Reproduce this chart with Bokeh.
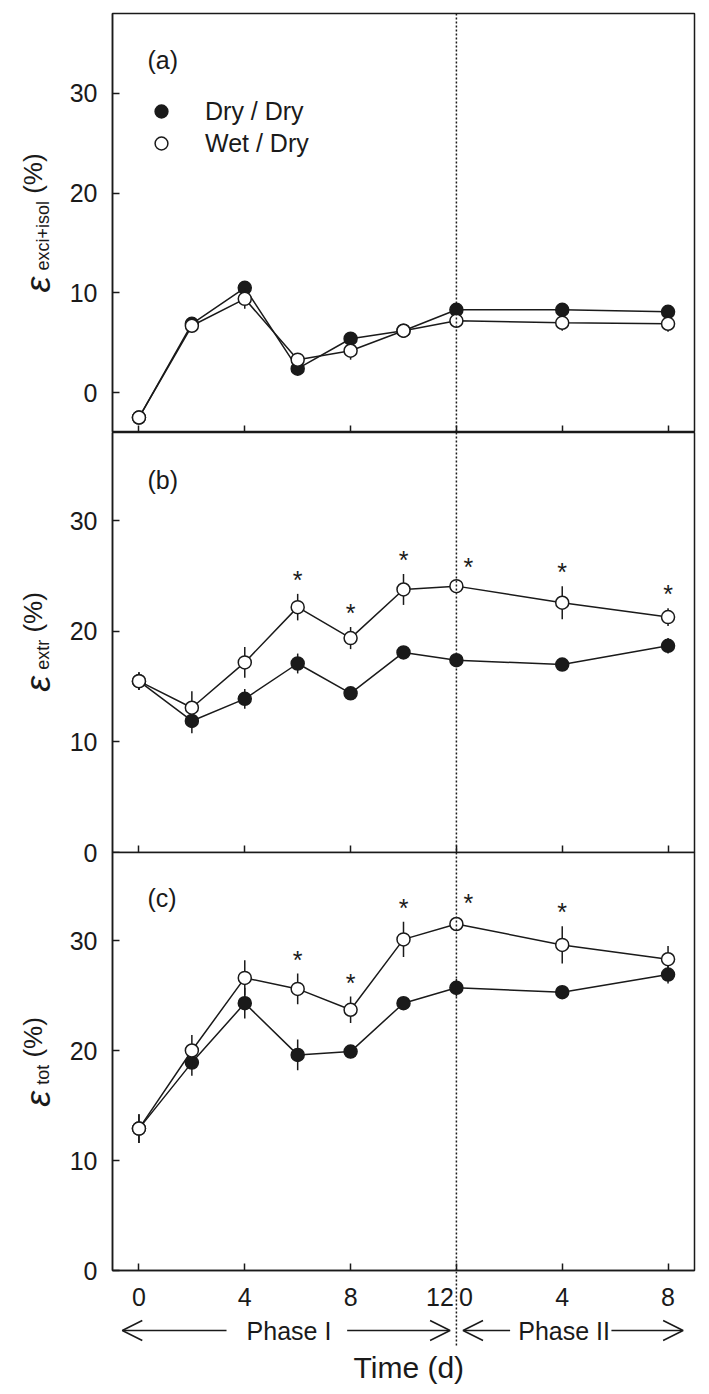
import math
import numpy as np
from bokeh.plotting import figure
from bokeh.models import (Range1d, FixedTicker, Span, Label, Legend, LegendItem,
                          Arrow, OpenHead, ColumnDataSource, CustomLabelingPolicy)
from bokeh.layouts import column, row
from bokeh.embed import file_html
from bokeh.resources import INLINE
from bokeh.core.properties import value

# ---------------- data ----------------
phase1_days = [0, 2, 4, 6, 8, 10, 12]
phase2_days = [4, 8]
x_pos = phase1_days + [12 + d for d in phase2_days]

tick_positions = [0, 4, 8, 12, 16, 20]
tick_labels = ["0", "4", "8", "12\u20090\u2007", "4", "8"]

series_names = ["Dry / Dry", "Wet / Dry"]

# panel (a)  epsilon exci+isol (%)
a_dry = [-2.5, 6.9, 10.5, 2.4, 5.4, 6.2, 8.3, 8.3, 8.1]
a_dry_err = [0.4, 0.6, 0.6, 0.4, 0.5, 0.4, 0.3, 0.3, 0.3]
a_wet = [-2.5, 6.7, 9.4, 3.3, 4.2, 6.2, 7.2, 7.0, 6.9]
a_wet_err = [0.4, 0.7, 1.0, 0.5, 0.9, 0.4, 0.5, 0.8, 0.8]
a_sig = [False, False, False, False, False, False, False, False, False]

# panel (b)  epsilon extr (%)
b_dry = [15.5, 11.9, 13.9, 17.1, 14.4, 18.1, 17.4, 17.0, 18.7]
b_dry_err = [0.8, 1.1, 0.9, 0.9, 0.5, 0.4, 0.4, 0.3, 0.7]
b_wet = [15.5, 13.1, 17.2, 22.2, 19.4, 23.8, 24.1, 22.6, 21.3]
b_wet_err = [0.8, 1.5, 1.4, 1.2, 1.0, 1.4, 0.5, 1.5, 0.8]
b_sig = [False, False, False, True, True, True, True, True, True]

# panel (c)  epsilon tot (%)
c_dry = [12.9, 18.9, 24.3, 19.6, 19.9, 24.3, 25.7, 25.3, 26.9]
c_dry_err = [1.3, 1.2, 1.4, 1.4, 0.6, 0.4, 0.8, 0.3, 0.8]
c_wet = [12.9, 20.0, 26.6, 25.6, 23.7, 30.1, 31.5, 29.6, 28.3]
c_wet_err = [1.3, 1.4, 1.6, 1.4, 1.2, 1.6, 0.6, 1.7, 1.2]
c_sig = [False, False, False, True, True, True, True, True, False]

# ---------------- styling helpers ----------------
FONT = "Liberation Sans"
INK = "#1a1a1a"
ARIAL = {" ": 0.278, "(": 0.333, ")": 0.333, "%": 0.889, "e": 0.556, "x": 0.5,
         "c": 0.5, "i": 0.222, "+": 0.584, "s": 0.5, "o": 0.556, "l": 0.222,
         "t": 0.278, "r": 0.333}


def tw(s, size):
    return sum(ARIAL.get(ch, 0.556) for ch in s) * size


LEFT_W = 50          # visible width of the strip holding the y-axis titles
LEFT_EXTRA = 72      # the strip runs on under the panels' (transparent) border
BL = 62              # left border of panels (tick labels)
BR = 10
FW = 582             # frame width
W = BL + FW + BR
FH = 419             # frame height of each panel
TOP = 13
OV = 13              # overlap so the "0" of panel (b) straddles the border
H1 = TOP + FH
H2 = FH + 1 + OV
XB = 42              # room for the x tick labels
H3 = FH + XB
H4 = 118             # strip with phase arrows and axis title (overlaps tick labels)
TOTAL_H = H1 + H2 - OV + H3 - XB + H4

xr = Range1d(-1, 21)

hide_labels = CustomLabelingPolicy(code="""
if (typeof indices.unset === "function") {
  for (const i of Array.from(indices)) { indices.unset(i) }
}
return indices
""")


def make_panel(height, yr, btop, bbottom, labels):
    p = figure(width=W, height=height, x_range=xr, y_range=Range1d(*yr),
               output_backend="svg", toolbar_location=None,
               min_border_left=BL, min_border_right=BR,
               min_border_top=btop, min_border_bottom=bbottom)
    p.xgrid.visible = False
    p.ygrid.visible = False
    p.outline_line_color = INK
    p.outline_line_width = 1.5
    p.outline_line_alpha = 1
    p.background_fill_color = "white"
    p.border_fill_alpha = 0

    yax = p.yaxis[0]
    yax.ticker = FixedTicker(ticks=[0, 10, 20, 30])
    yax.major_tick_in = 7
    yax.major_tick_out = 0
    yax.minor_tick_line_color = None
    yax.axis_line_color = INK
    yax.axis_line_width = 1.5
    yax.major_tick_line_color = INK
    yax.major_tick_line_width = 1.5
    yax.major_label_text_font = FONT
    yax.major_label_text_font_size = "25px"
    yax.major_label_text_color = INK
    yax.major_label_standoff = 15

    xax = p.xaxis[0]
    xax.ticker = FixedTicker(ticks=tick_positions)
    xax.major_tick_in = 7
    xax.major_tick_out = 0
    xax.minor_tick_line_color = None
    xax.axis_line_color = INK
    xax.axis_line_width = 1.5
    xax.major_tick_line_color = INK
    xax.major_tick_line_width = 1.5
    if labels:
        xax.major_label_overrides = dict(zip(tick_positions, tick_labels))
        xax.major_label_text_font = FONT
        xax.major_label_text_font_size = "25px"
        xax.major_label_text_color = INK
        xax.major_label_standoff = 12
    else:
        xax.major_label_text_font_size = "0px"
        xax.major_label_standoff = 0
        xax.major_label_policy = hide_labels

    p.add_layout(Span(location=12, dimension="height", line_color=INK,
                      line_width=1.5, line_dash="2 2"))
    return p


def draw_series(p, dry, dry_err, wet, wet_err, sig):
    rs = []
    for vals, errs, fill in ((dry, dry_err, INK), (wet, wet_err, "white")):
        v = np.array(vals, dtype=float)
        e = np.array(errs, dtype=float)
        src = ColumnDataSource(dict(x=x_pos, y=v, lo=v - e, hi=v + e))
        p.segment(x0="x", y0="lo", x1="x", y1="hi", source=src,
                  line_color=INK, line_width=1.5)
        p.line(x="x", y="y", source=src, line_color=INK, line_width=1.5)
        r = p.scatter(x="x", y="y", source=src, size=13, marker="circle",
                      fill_color=fill, line_color=INK, line_width=1.5)
        rs.append(r)
    sx, sy, sxo = [], [], []
    for xx, w, e, s in zip(x_pos, wet, wet_err, sig):
        if s:
            sx.append(xx)
            sy.append(w + e)
            sxo.append(12 if xx == 12 else 0)
    if sx:
        ssrc = ColumnDataSource(dict(x=sx, y=sy, xo=sxo, t=["*"] * len(sx)))
        p.text(x="x", y="y", text="t", x_offset="xo", y_offset=-14, source=ssrc,
               text_font=value(FONT), text_font_size="25px", text_color=INK,
               text_align="center", text_baseline="alphabetic")
    return rs


def add_panel_tag(p, tag):
    p.add_layout(Label(x=35, y=FH - 46, x_units="screen", y_units="screen",
                       text=tag, text_font=FONT, text_font_size="25px",
                       text_color=INK, text_align="left", text_baseline="middle"))


# ---------------- panels ----------------
p1 = make_panel(H1, (-4, 38), TOP, 0, False)
r1 = draw_series(p1, a_dry, a_dry_err, a_wet, a_wet_err, a_sig)
add_panel_tag(p1, "(a)")
legend = Legend(items=[LegendItem(label=series_names[0], renderers=[r1[0]]),
                       LegendItem(label=series_names[1], renderers=[r1[1]])],
                location=(33, 273), glyph_width=32, glyph_height=32,
                label_standoff=28, spacing=0, padding=10, margin=0,
                border_line_color=None, background_fill_alpha=0,
                label_text_font=FONT, label_text_font_size="25px",
                label_text_color=INK, label_text_baseline="middle")
p1.add_layout(legend)

p2 = make_panel(H2, (0, 38), 0, OV, False)
draw_series(p2, b_dry, b_dry_err, b_wet, b_wet_err, b_sig)
add_panel_tag(p2, "(b)")

p3 = make_panel(H3, (0, 38), 0, XB, True)
draw_series(p3, c_dry, c_dry_err, c_wet, c_wet_err, c_sig)
add_panel_tag(p3, "(c)")
p3.styles = {"margin-top": "-%dpx" % OV}

# ---------------- strip below: phase arrows + axis title ----------------
p4 = figure(width=W, height=H4, x_range=xr, y_range=Range1d(0, H4),
            x_axis_type=None, y_axis_type=None, output_backend="svg",
            toolbar_location=None, min_border_left=BL, min_border_right=BR,
            min_border_top=0, min_border_bottom=0)
p4.outline_line_color = None
p4.background_fill_alpha = 0
p4.border_fill_alpha = 0
p4.xgrid.visible = False
p4.ygrid.visible = False
p4.styles = {"margin-top": "-%dpx" % XB}
ya = 59
for xs, xe in ((3.31, -0.63), (7.87, 11.76), (14.03, 12.25), (17.86, 20.57)):
    p4.add_layout(Arrow(x_start=xs, y_start=ya, x_end=xe, y_end=ya,
                        line_color=INK, line_width=1.5,
                        end=OpenHead(size=20, line_color=INK, line_width=1.5)))
p4.add_layout(Arrow(x_start=12, y_start=H4, x_end=12, y_end=44, end=None,
                    line_color=INK, line_width=1.5, line_dash="2 2"))
for txt, xc in (("Phase I", 5.67), ("Phase II", 16.07)):
    p4.add_layout(Label(x=xc, y=ya, text=txt, text_font=FONT,
                        text_font_size="25px", text_color=INK,
                        text_align="center", text_baseline="middle"))
p4.add_layout(Label(x=10.2, y=22, text="Time (d)", text_font=FONT,
                    text_font_size="30px", text_color=INK,
                    text_align="center", text_baseline="middle"))

# ---------------- strip on the left: y-axis titles ----------------
PW0 = LEFT_W + LEFT_EXTRA
p0 = figure(width=PW0, height=TOTAL_H, x_range=Range1d(0, PW0),
            y_range=Range1d(0, TOTAL_H), x_axis_type=None, y_axis_type=None,
            output_backend="svg", toolbar_location=None,
            min_border_left=0, min_border_right=0, min_border_top=0,
            min_border_bottom=0)
p0.outline_line_color = None
p0.background_fill_alpha = 0
p0.border_fill_alpha = 0
p0.xgrid.visible = False
p0.ygrid.visible = False


def add_ylabel(sub, page_center):
    eps_adv = 22
    sub_w = tw(sub, 18)
    sp = tw(" ", 26)
    rest = "(%)"
    rest_w = tw(rest, 26)
    total = eps_adv + sub_w + sp + rest_w
    yc = TOTAL_H - page_center
    y0 = yc - total / 2
    common = dict(x_units="screen", y_units="screen", angle=math.pi / 2,
                  text_align="left", text_baseline="alphabetic", text_color=INK)
    p0.add_layout(Label(x=37, y=y0, text="\u03b5", text_font=FONT,
                        text_font_style="italic", text_font_size="36px", **common))
    p0.add_layout(Label(x=42, y=y0 + eps_adv, text=sub, text_font=FONT,
                        text_font_size="18px", **common))
    p0.add_layout(Label(x=32.5, y=y0 + eps_adv + sub_w + sp, text=rest,
                        text_font=FONT, text_font_size="26px", **common))


add_ylabel("exci+isol", TOP + FH / 2)
add_ylabel("extr", H1 + FH / 2)
add_ylabel("tot", H1 + H2 - OV + FH / 2)

main = column(p1, p2, p3, p4, spacing=0)
main.styles = {"margin-left": "-%dpx" % LEFT_EXTRA}
layout = row(p0, main, spacing=0)
open("out.html", "w").write(file_html(layout, INLINE))
